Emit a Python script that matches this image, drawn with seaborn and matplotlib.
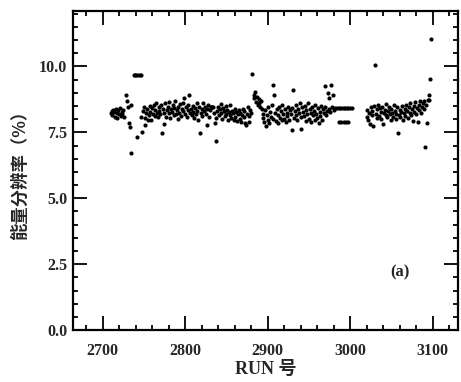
import matplotlib
matplotlib.use("Agg")
import matplotlib.pyplot as plt
import matplotlib.ticker as mticker
import seaborn as sns
import pandas as pd

# run numbers and energy resolution (%)
runs = [
    2710, 2711, 2712, 2713, 2714, 2715, 2716, 2717, 2718, 2719, 2720, 2721, 2722,
    2723, 2724, 2725, 2726, 2729, 2730, 2731, 2732, 2733, 2734, 2735,
    2738, 2739, 2741, 2743, 2745, 2746,
    2742, 2748, 2752, 2755,
    2747, 2749, 2750, 2751, 2753, 2754, 2756, 2757, 2758, 2759, 2760, 2761, 2762,
    2763, 2764, 2765, 2766, 2767, 2768, 2769, 2770, 2771, 2772, 2773, 2774, 2775,
    2776, 2777, 2778, 2779, 2780, 2781, 2782, 2783, 2784, 2785, 2786, 2787, 2788,
    2789, 2790, 2791, 2792, 2793, 2794, 2795, 2796, 2797, 2798, 2799, 2800, 2801,
    2802, 2803, 2804, 2805, 2806, 2807, 2808, 2809, 2810, 2811, 2812, 2813, 2814,
    2815, 2816, 2817, 2818, 2819, 2820, 2821, 2822, 2823, 2824, 2825, 2826, 2827,
    2828, 2829, 2830, 2831, 2832, 2833, 2834, 2835, 2836, 2837, 2838, 2839, 2840,
    2841, 2842, 2843, 2844, 2845, 2846, 2847, 2848, 2849, 2850, 2851, 2852, 2853,
    2854, 2855, 2856, 2857, 2858, 2859, 2860, 2861, 2862, 2863, 2864, 2865, 2866,
    2867, 2868, 2869, 2870, 2871, 2872, 2873, 2874, 2875, 2876, 2877, 2878, 2879,
    2880,
    2881, 2883, 2884, 2885, 2886, 2887, 2888, 2889, 2890, 2891, 2892, 2893,
    2894, 2895, 2896, 2897, 2898, 2899, 2900, 2901, 2902, 2903, 2904, 2905, 2906,
    2907, 2908, 2909, 2910, 2911, 2912, 2913, 2914, 2915, 2916, 2917, 2918, 2919,
    2920, 2921, 2922, 2923, 2924, 2925, 2926, 2927, 2928, 2929, 2930, 2931, 2932,
    2933, 2934, 2935, 2936, 2937, 2938, 2939, 2940, 2941, 2942, 2943, 2944, 2945,
    2946, 2947, 2948, 2949, 2950, 2951, 2952, 2953, 2954, 2955, 2956, 2957, 2958,
    2959, 2960, 2961, 2962, 2963, 2964, 2965, 2966, 2967, 2968, 2969, 2970, 2971,
    2972, 2973, 2974, 2975, 2976, 2977, 2978, 2979, 2980,
    2982, 2984, 2986, 2988, 2990, 2992, 2994, 2996, 2998, 3000, 3002,
    2986, 2989, 2992, 2995, 2998,
    3020, 3021, 3022, 3023, 3024, 3025, 3026, 3027, 3028, 3029, 3030, 3031, 3032,
    3033, 3034, 3035, 3036, 3037, 3038, 3039, 3040, 3041, 3042, 3043, 3044, 3045,
    3046, 3047, 3048, 3049, 3050, 3051, 3052, 3053, 3054, 3055, 3056, 3057, 3058,
    3059, 3060, 3061, 3062, 3063, 3064, 3065, 3066, 3067, 3068, 3069, 3070, 3071,
    3072, 3073, 3074, 3075, 3076, 3077, 3078, 3079, 3080, 3081, 3082, 3083, 3084,
    3085, 3086, 3087, 3088, 3089, 3090, 3091, 3092, 3093, 3094, 3095, 3096, 3097,
    3098,
]

resolution = [
    8.22, 8.30, 8.15, 8.35, 8.28, 8.10, 8.40, 8.25, 8.05, 8.33, 8.18, 8.42, 8.12,
    8.28, 8.20, 8.36, 8.08, 8.92, 8.70, 8.48, 7.85, 7.72, 6.71, 8.55,
    9.67, 9.67, 9.67, 9.67, 9.67, 9.67,
    7.34, 7.53, 7.79, 7.95,
    8.10, 8.32, 8.45, 8.05, 8.22, 8.38, 8.15, 8.50, 8.28, 7.98, 8.42, 8.20, 8.55,
    8.12, 8.35, 8.62, 8.25, 8.08, 8.45, 8.30, 8.18, 8.52, 7.47, 8.40, 7.80, 8.25,
    8.60, 8.10, 8.35, 8.48, 8.22, 8.65, 8.05, 8.38, 8.28, 8.55, 8.15, 8.42, 8.70,
    8.20, 8.33, 8.02, 8.48, 8.25, 8.58, 8.12, 8.40, 8.30, 8.62, 8.80, 8.18, 8.45,
    8.08, 8.35, 8.55, 8.92, 8.22, 8.40, 8.15, 8.50, 8.28, 8.05, 8.42, 8.20, 8.60,
    8.32, 7.95, 8.48, 7.47, 8.25, 8.38, 8.12, 8.61, 8.30, 8.45, 8.18, 7.79, 8.40,
    8.52, 8.10, 8.35, 8.45, 8.45, 8.45, 8.45, 8.22, 7.85, 8.05, 7.16, 8.30, 8.45,
    8.15, 8.38, 8.58, 8.25, 8.02, 8.42, 8.30, 8.12, 8.50, 8.20, 8.35, 7.98, 8.28,
    8.54, 8.15, 8.05, 8.32, 8.22, 7.95, 8.40, 8.10, 8.28, 7.92, 8.18, 8.35, 8.02,
    8.25, 7.90, 8.15, 8.40, 8.08, 8.30, 7.85, 7.79, 8.20, 8.48, 8.12, 7.91, 8.35,
    8.25,
    9.72, 8.92, 8.80, 9.02, 8.65, 8.85, 8.55, 8.75, 8.60, 8.48, 8.70, 8.40,
    8.20, 8.05, 7.90, 8.35, 7.74, 8.15, 8.45, 7.98, 7.86, 8.28, 8.10, 8.52, 8.00,
    9.31, 8.93, 8.22, 7.92, 8.38, 8.15, 7.85, 8.45, 8.05, 8.30, 7.95, 8.55, 8.20,
    8.02, 8.40, 7.88, 8.25, 8.12, 8.48, 7.98, 8.35, 8.18, 7.57, 8.42, 9.12, 8.05,
    8.30, 8.55, 8.15, 7.95, 8.38, 8.22, 8.60, 8.08, 7.61, 8.45, 8.28, 8.12, 8.50,
    7.92, 8.35, 8.18, 8.62, 8.02, 8.40, 8.25, 7.88, 8.48, 8.15, 8.32, 7.98, 8.55,
    8.20, 8.05, 8.42, 7.85, 8.28, 8.12, 8.50, 7.95, 8.38, 8.22, 9.25, 8.45, 8.15,
    8.32, 9.00, 8.40, 8.81, 8.28, 9.31, 8.45, 8.93, 8.35,
    8.43, 8.43, 8.43, 8.43, 8.43, 8.43, 8.43, 8.43, 8.43, 8.43, 8.43,
    7.88, 7.88, 7.88, 7.88, 7.88,
    8.10, 8.35, 7.95, 8.25, 7.80, 8.45, 8.15, 8.30, 7.74, 8.50, 10.07, 8.20, 8.05,
    8.38, 8.55, 8.12, 8.42, 8.28, 8.00, 8.48, 7.80, 8.22, 8.35, 8.15, 8.58, 8.08,
    8.30, 8.45, 8.18, 7.95, 8.40, 8.25, 8.10, 8.52, 8.32, 8.02, 8.20, 8.45, 7.48,
    8.15, 8.35, 8.08, 8.28, 8.50, 7.98, 8.22, 8.40, 8.12, 8.55, 8.30, 8.05, 8.45,
    8.25, 8.62, 8.15, 8.38, 7.92, 8.50, 8.28, 8.65, 8.18, 8.42, 7.90, 8.55, 8.35,
    8.70, 8.25, 8.48, 8.60, 8.40, 8.68, 6.94, 8.52, 7.85, 8.72, 8.93, 8.74, 9.53,
    11.03,
]

x_ticks = [2700, 2800, 2900, 3000, 3100]
y_ticks = [0.0, 2.5, 5.0, 7.5, 10.0]

df = pd.DataFrame({"run": runs, "res": resolution})

sns.set_style("ticks")
plt.rcParams["font.family"] = ["Liberation Serif", "Noto Sans CJK SC"]

fig = plt.figure(figsize=(4.61, 3.82), dpi=100)
ax = fig.add_axes([0.158, 0.136, 0.836, 0.835])

sns.scatterplot(data=df, x="run", y="res", ax=ax, color="black", s=9,
                edgecolor=None, linewidth=0, legend=False)

ax.set_xlim(2664, 3131)
ax.set_ylim(0, 12.1)
ax.set_xticks(x_ticks)
ax.set_yticks(y_ticks)
ax.xaxis.set_minor_locator(mticker.MultipleLocator(20))
ax.yaxis.set_minor_locator(mticker.MultipleLocator(0.5))
ax.yaxis.set_major_formatter(mticker.FormatStrFormatter("%.1f"))

ax.tick_params(which="both", direction="in", top=True, right=True, width=1.3,
               color="black")
ax.tick_params(which="major", length=10)
ax.tick_params(which="minor", length=3.5)
ax.tick_params(axis="x", which="major", pad=9)
ax.tick_params(axis="y", which="major", pad=4)
for lab in ax.get_xticklabels() + ax.get_yticklabels():
    lab.set_fontsize(11.5)
    lab.set_fontweight("bold")
    lab.set_family("Liberation Serif")

for sp in ax.spines.values():
    sp.set_linewidth(1.6)
    sp.set_color("black")

ax.set_xlabel("RUN 号", fontsize=13, fontweight="bold",
              family=["Liberation Serif", "Noto Sans CJK SC"], labelpad=2)
ax.set_ylabel("能量分辨率（%）", fontsize=12.5, fontweight="bold",
              family=["Noto Sans CJK SC", "DejaVu Sans"], labelpad=7)

ax.text(0.85, 0.18, "(a)", transform=ax.transAxes, fontsize=12,
        fontweight="bold", family="Liberation Serif", ha="center", va="center")

fig.savefig("out.png", dpi=100)
